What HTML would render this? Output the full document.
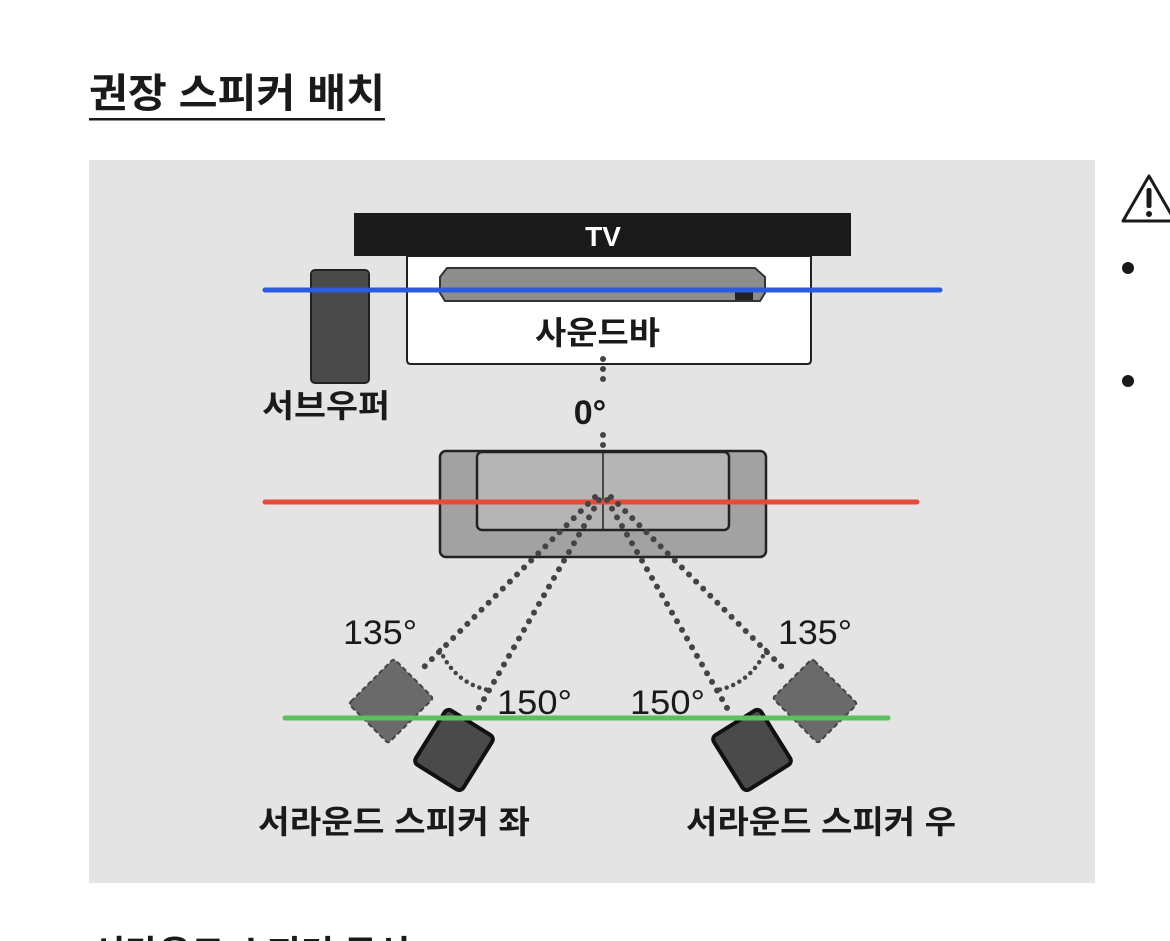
<!DOCTYPE html>
<html><head><meta charset="utf-8"><style>
html,body{margin:0;padding:0;background:#fff;width:1170px;height:941px;overflow:hidden}
svg{display:block}
text{font-family:"Liberation Sans","Noto Sans CJK KR",sans-serif;fill:#1a1a1a}
</style></head><body>
<svg width="1170" height="941" viewBox="0 0 1170 941" xmlns="http://www.w3.org/2000/svg">
<text x="89" y="107" font-size="40" font-weight="bold" textLength="296" lengthAdjust="spacingAndGlyphs">권장 스피커 배치</text>
<rect x="89" y="118" width="296" height="2.5" fill="#1a1a1a"/>
<rect x="89" y="160" width="1006" height="723" fill="#e4e4e4"/>
<!-- right side -->
<path d="M1149 176 L1175 221 L1123 221 Z" fill="none" stroke="#1a1a1a" stroke-width="3" stroke-linejoin="round"/>
<rect x="1146.5" y="188" width="5" height="20" rx="2" fill="#1a1a1a"/>
<circle cx="1149" cy="214" r="3" fill="#1a1a1a"/>
<circle cx="1128" cy="268" r="6" fill="#1a1a1a"/>
<circle cx="1128" cy="381" r="6" fill="#1a1a1a"/>
<text x="92" y="966" font-size="36" font-weight="bold">서라운드 스피커 무선</text>
<!-- TV -->
<path d="M407 256 H811 V360 Q811 364 807 364 H411 Q407 364 407 360 Z" fill="#fff" stroke="#222" stroke-width="2"/>
<rect x="354" y="213" width="497" height="43" fill="#1a1a1a"/>
<text x="603" y="246" font-size="28" font-weight="bold" text-anchor="middle" style="fill:#fff">TV</text>
<path d="M447 268 H755 L765 277 V293 L760 301 H445 L440 293 V277 Z" fill="#8d8d8d" stroke="#333" stroke-width="2"/>
<rect x="735" y="292" width="18" height="8" fill="#222"/>
<text x="535" y="344" font-size="32" font-weight="bold" textLength="125" lengthAdjust="spacingAndGlyphs">사운드바</text>
<!-- subwoofer -->
<rect x="311" y="270" width="58" height="113" rx="4" fill="#4a4a4a" stroke="#222" stroke-width="2"/>
<text x="262" y="417" font-size="32" font-weight="bold" textLength="128" lengthAdjust="spacingAndGlyphs">서브우퍼</text>
<line x1="265" y1="290" x2="940" y2="290" stroke="#2a5be0" stroke-width="5" stroke-linecap="round"/>
<!-- 0 deg -->
<g stroke="#444" stroke-width="6" stroke-linecap="round" stroke-dasharray="0 10" fill="none">
<line x1="603" y1="359" x2="603" y2="389"/>
<line x1="603" y1="435" x2="603" y2="505"/>
</g>
<text x="590" y="424" font-size="34" font-weight="bold" text-anchor="middle">0°</text>
<!-- sofa -->
<rect x="440" y="451" width="326" height="106" rx="6" fill="#a2a2a2" stroke="#222" stroke-width="2.5"/>
<rect x="477" y="452" width="252" height="78" rx="5" fill="#b5b5b5" stroke="#222" stroke-width="2.5"/>
<line x1="603" y1="452" x2="603" y2="530" stroke="#222" stroke-width="1.5"/>
<line x1="265" y1="502" x2="917" y2="502" stroke="#e64a3a" stroke-width="5" stroke-linecap="round"/>
<!-- angle lines -->
<g stroke="#444" stroke-width="6" stroke-linecap="round" stroke-dasharray="0 10" fill="none">
<line x1="595" y1="497" x2="423" y2="668"/>
<line x1="599" y1="500" x2="476" y2="713"/>
<line x1="611" y1="497" x2="783" y2="668"/>
<line x1="607" y1="500" x2="730" y2="713"/>
</g>
<g stroke="#444" stroke-width="4.5" stroke-linecap="round" stroke-dasharray="0 7" fill="none">
<path d="M440 650 Q455 683 488 690"/>
<path d="M766 650 Q751 683 718 690"/>
</g>
<!-- speakers -->
<rect x="-32" y="-28" width="64" height="56" rx="3" transform="translate(391 701) rotate(-45)" fill="#6a6a6a" stroke="#444" stroke-width="2" stroke-dasharray="5 3"/>
<rect x="-32" y="-28" width="64" height="56" rx="3" transform="translate(815 701) rotate(45)" fill="#6a6a6a" stroke="#444" stroke-width="2" stroke-dasharray="5 3"/>
<rect x="-28" y="-32" width="56" height="64" rx="5" transform="translate(454 750) rotate(32)" fill="#4a4a4a" stroke="#111" stroke-width="4"/>
<rect x="-28" y="-32" width="56" height="64" rx="5" transform="translate(752 750) rotate(-32)" fill="#4a4a4a" stroke="#111" stroke-width="4"/>
<line x1="285" y1="718" x2="888" y2="718" stroke="#5cc15c" stroke-width="5" stroke-linecap="round"/>
<text x="343" y="644" font-size="34" textLength="74" lengthAdjust="spacingAndGlyphs">135°</text>
<text x="778" y="644" font-size="34" textLength="74" lengthAdjust="spacingAndGlyphs">135°</text>
<text x="497" y="714" font-size="34" textLength="75" lengthAdjust="spacingAndGlyphs">150°</text>
<text x="630" y="714" font-size="34" textLength="75" lengthAdjust="spacingAndGlyphs">150°</text>
<text x="258" y="833" font-size="32" font-weight="bold" textLength="272" lengthAdjust="spacingAndGlyphs">서라운드 스피커 좌</text>
<text x="686" y="833" font-size="32" font-weight="bold" textLength="270" lengthAdjust="spacingAndGlyphs">서라운드 스피커 우</text>
</svg>
</body></html>
